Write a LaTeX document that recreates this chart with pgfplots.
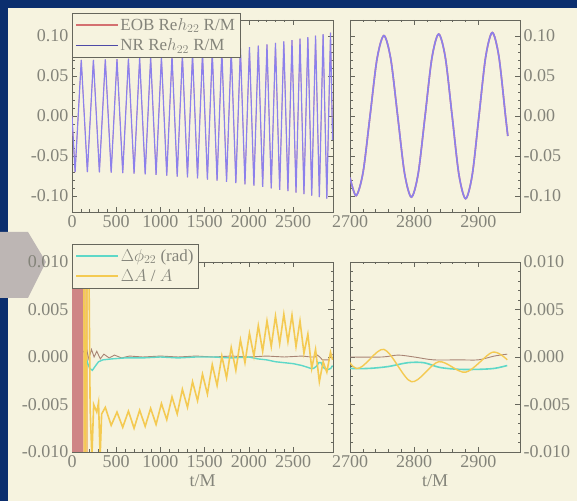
\documentclass[border=0pt]{standalone}
\usepackage{fontspec}
\setmainfont{Liberation Serif}
\usepackage{pgfplots}
\usepackage{pgfplotstable}
\pgfplotsset{compat=1.18}

\definecolor{cream}{HTML}{F6F3DF}
\definecolor{navy}{HTML}{0B2E6E}
\definecolor{chev}{HTML}{BDB6B4}
\definecolor{txt}{HTML}{84847A}
\definecolor{axcol}{HTML}{66665C}
\definecolor{nrblue}{HTML}{8C80EC}
\definecolor{nrdark}{HTML}{4E4AA6}
\definecolor{eobred}{HTML}{D47070}
\definecolor{dcyan}{HTML}{5ED8C8}
\definecolor{dyel}{HTML}{F4CA52}
\definecolor{band}{HTML}{CF8585}
\definecolor{bandorange}{HTML}{F2B766}
\definecolor{resid}{HTML}{A88474}

% NR / EOB waveform, turning points over the whole run
\pgfplotstableread{
t h
0 0.000
35 -0.0700
104.7 0.0700
173.7 -0.0701
242.0 0.0702
309.6 -0.0704
376.5 0.0706
442.8 -0.0708
508.5 0.0710
573.5 -0.0713
637.8 0.0716
701.5 -0.0720
764.6 0.0724
827.1 -0.0728
889.0 0.0732
950.2 -0.0736
1010.8 0.0741
1070.9 -0.0746
1130.3 0.0751
1189.2 -0.0757
1247.5 0.0763
1305.2 -0.0768
1362.3 0.0775
1418.9 -0.0781
1474.9 0.0788
1530.4 -0.0794
1585.3 0.0801
1639.7 -0.0808
1693.5 0.0815
1746.9 -0.0823
1799.6 0.0830
1851.9 -0.0838
1903.7 0.0846
1954.9 -0.0854
2005.7 0.0862
2055.9 -0.0870
2105.6 0.0878
2154.9 -0.0887
2203.7 0.0895
2252.0 -0.0904
2299.8 0.0913
2347.1 -0.0922
2394.0 0.0931
2440.4 -0.0940
2486.4 0.0949
2531.9 -0.0958
2577.0 0.0967
2621.6 -0.0976
2665.8 0.0986
2709.5 -0.0995
2752.8 0.1005
2795.7 -0.1014
2838.2 0.1024
2880.2 -0.1034
2921.8 0.1043
2945 -0.030
}\wavefull

% last cycles, sampled finer for the zoomed panel
\pgfplotstableread{
t h
2700 -0.077
2709.5 -0.0995
2720.3 -0.0706
2731.2 0.0
2742.0 0.0708
2752.8 0.1005
2763.5 0.0713
2774.3 0.0
2785.0 -0.0715
2795.7 -0.1014
2806.3 -0.0719
2817.0 0.0
2827.6 0.0722
2838.2 0.1024
2848.7 0.0726
2859.2 0.0
2869.7 -0.0729
2880.2 -0.1034
2890.6 -0.0733
2901.0 0.0
2911.4 0.0736
2921.8 0.1043
2932.1 0.0740
2942.4 0.0
2946 -0.025
}\wavezoom

% amplitude difference
\pgfplotstableread{
t dA
130 0.011
150 -0.011
170 0.011
190 0.011
205 -0.0055
225 -0.0105
245 -0.0050
280 -0.0058
300 -0.0048
318 -0.0105
335 -0.0060
376.5 -0.0053
442.8 -0.0072
508.5 -0.0058
573.5 -0.0074
637.8 -0.0057
701.5 -0.0075
764.6 -0.0056
827.1 -0.0073
889.0 -0.0054
950.2 -0.0071
1010.8 -0.0049
1070.9 -0.0066
1130.3 -0.0042
1189.2 -0.0060
1247.5 -0.0034
1305.2 -0.0053
1362.3 -0.0026
1418.9 -0.0046
1474.9 -0.0018
1530.4 -0.0039
1585.3 -0.0008
1639.7 -0.0030
1693.5 0.0001
1746.9 -0.0022
1799.6 0.0010
1851.9 -0.0014
1903.7 0.0018
1954.9 -0.0006
2005.7 0.0025
2055.9 0.0001
2105.6 0.0033
2154.9 0.0006
2203.7 0.0038
2252.0 0.0011
2299.8 0.0043
2347.1 0.0014
2394.0 0.0045
2440.4 0.0016
2486.4 0.0044
2531.9 0.0011
2577.0 0.0038
2621.6 0.0004
2665.8 0.0024
2709.5 -0.0012
2752.8 0.0008
2795.7 -0.0026
2838.2 -0.0005
2880.2 -0.0016
2921.8 0.0005
2945 -0.0003
}\ampdiff

% phase difference
\pgfplotstableread{
t dphi
150 0.0002
175 -0.0006
200 -0.0012
230 -0.0014
260 -0.0010
300 -0.0005
350 -0.0003
450 -0.0002
600 -0.0001
800 -0.0001
1000 0.0000
1200 -0.0001
1400 0.0000
1600 0.0000
1800 -0.0001
2000 0.0000
2100 -0.0002
2200 -0.0003
2300 -0.0005
2400 -0.0006
2500 -0.0007
2600 -0.0009
2700 -0.0012
2730 -0.0012
2760 -0.0010
2790 -0.0006
2815 -0.0006
2840 -0.0011
2870 -0.0013
2900 -0.0013
2925 -0.0012
2945 -0.0009
}\phasediff

% unlabelled residual near zero
\pgfplotstableread{
t r
130 0.0005
160 0.0010
190 -0.0002
220 0.0008
250 0.0000
280 0.0006
320 -0.0002
360 0.0003
420 -0.0001
480 0.0002
560 -0.0001
650 0.0001
800 0.0000
1000 0.0001
1200 0.0000
1400 0.0001
1600 0.0000
1800 0.0001
2000 0.0000
2200 0.0001
2400 0.0000
2600 0.0001
2700 0.0000
2750 0.0000
2775 0.0002
2800 0.0000
2830 -0.0003
2870 -0.0003
2900 -0.0003
2925 0.0001
2945 0.0003
}\resline

\pgfplotsset{
  panel/.style={
    scale only axis, anchor=south west,
    scaled y ticks=false, scaled x ticks=false,
    axis line style={axcol, line width=0.9bp},
    tick style={axcol, line width=0.6bp},
    major tick length=5bp, minor tick length=2.5bp,
    minor x tick num=4, minor y tick num=4,
    tick align=inside, tick pos=both,
    ticklabel style={font=\fontsize{18bp}{19bp}\selectfont, text=txt},
    label style={font=\fontsize{18bp}{19bp}\selectfont, text=txt},
    legend style={font=\fontsize{17bp}{18bp}\selectfont,
      nodes={text=txt}, draw=axcol, fill=cream, anchor=north west,
      legend cell align=left, inner sep=3bp, row sep=3bp},
    legend image code/.code={\draw[##1] (0bp,0bp) -- (42bp,0bp);},
  },
  wavey/.style={ymin=-0.12, ymax=0.12, ytick={-0.1,-0.05,0,0.05,0.1},
    yticklabels={-0.10,-0.05,0.00,0.05,0.10}},
  diffy/.style={ymin=-0.01, ymax=0.01, ytick={-0.01,-0.005,0,0.005,0.01},
    yticklabels={-0.010,-0.005,0.000,0.005,0.010}},
  leftx/.style={xmin=0, xmax=2950, xtick={0,500,1000,1500,2000,2500},
    xticklabels={0,500,1000,1500,2000,2500}},
  rightx/.style={xmin=2700, xmax=2965, xtick={2700,2800,2900},
    xticklabels={2700,2800,2900}, yticklabel pos=right},
}

\begin{document}
\begin{tikzpicture}[x=1bp, y=1bp]
\useasboundingbox (0,0) rectangle (577,501);
% slide background
\fill[navy] (0,0) rectangle (577,501);
\fill[cream] (8,0) rectangle (577,493);
\fill[chev] (0,269) -- (28,269) -- (46,239) -- (28,203) -- (0,203) -- cycle;

% top left: full waveform
\begin{axis}[panel, wavey, leftx, at={(72bp,289bp)}, width=261bp, height=192bp,
  legend style={at={(0,1.036)}}]
\addplot[eobred, line width=0.5bp, forget plot] table[x=t, y=h] {\wavefull};
\addplot[nrblue, line width=1.2bp, forget plot] table[x=t, y=h] {\wavefull};
\addlegendimage{eobred, line width=1.2bp}
\addlegendentry{EOB Re$h_{22}$ R/M}
\addlegendimage{nrdark, line width=1.2bp}
\addlegendentry{NR Re$h_{22}$ R/M}
\end{axis}

% top right: last cycles
\begin{axis}[panel, wavey, rightx, at={(350bp,289bp)}, width=170bp, height=192bp]
\addplot[eobred, line width=1.6bp, smooth] table[x=t, y=h] {\wavezoom};
\addplot[nrblue, line width=1.6bp, smooth] table[x=t, y=h] {\wavezoom};
\end{axis}

% bottom left: differences
\begin{axis}[panel, diffy, leftx, at={(72bp,49bp)}, width=261bp, height=190bp,
  xlabel={t/M}, legend style={at={(0,1.095)}}]
\addplot[draw=none, fill=band, forget plot] coordinates {(0,-0.02)(125,-0.02)(125,0.02)(0,0.02)};
\addplot[draw=none, fill=bandorange, fill opacity=0.8, forget plot] coordinates {(125,-0.02)(185,-0.02)(185,0.02)(125,0.02)};
\addplot[resid, line width=0.9bp, forget plot] table[x=t, y=r] {\resline};
\addplot[dcyan, line width=1.4bp, forget plot] table[x=t, y=dphi] {\phasediff};
\addplot[dyel, line width=1.6bp, forget plot] table[x=t, y=dA] {\ampdiff};
\addlegendimage{dcyan, line width=1.4bp}
\addlegendentry{$\Delta\phi_{22}$ (rad)}
\addlegendimage{dyel, line width=1.6bp}
\addlegendentry{$\Delta A$ / $A$}
\end{axis}

% bottom right: differences, last cycles
\begin{axis}[panel, diffy, rightx, at={(350bp,49bp)}, width=170bp, height=190bp,
  xlabel={t/M}]
\addplot[resid, line width=0.9bp, smooth] table[x=t, y=r] {\resline};
\addplot[dcyan, line width=1.6bp, smooth] table[x=t, y=dphi] {\phasediff};
\addplot[dyel, line width=1.4bp, smooth] table[x=t, y=dA] {\ampdiff};
\end{axis}
\end{tikzpicture}
\end{document}
